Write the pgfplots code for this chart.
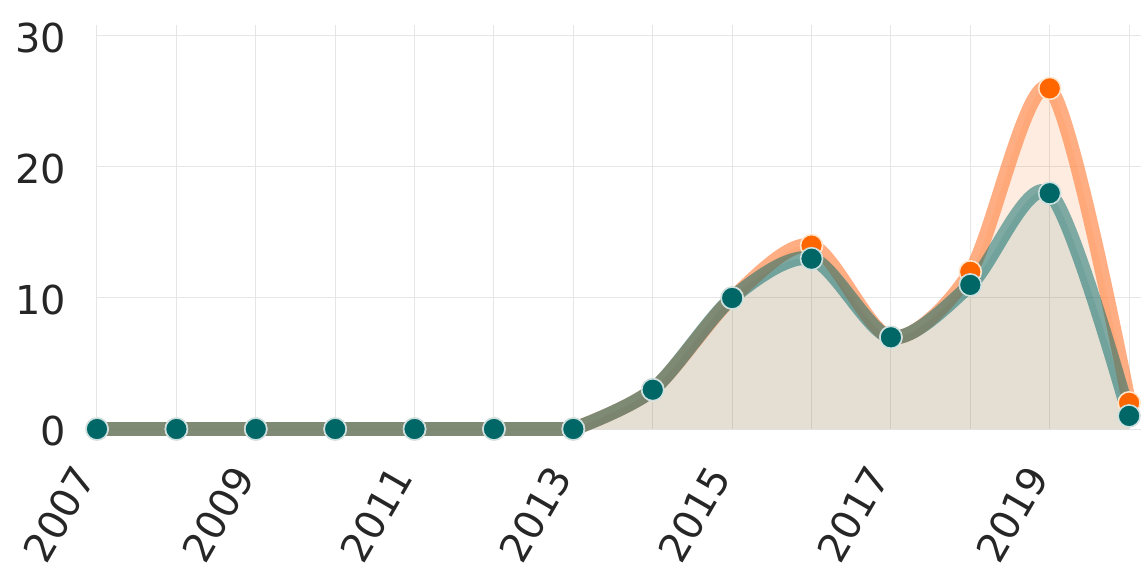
\documentclass[border=0pt]{standalone}
\usepackage{pgfplots}
\pgfplotsset{compat=1.18}
\usepackage{fontspec}
\setmainfont{DejaVu Sans}
\definecolor{tealm}{HTML}{006666}
\definecolor{orangem}{HTML}{FF6600}
\definecolor{orangel}{HTML}{FF8C50}
\definecolor{gridc}{HTML}{E6E6E6}
\begin{document}
\begin{tikzpicture}
\begin{axis}[
  scale only axis,
  width=522bp, height=202bp,
  xmin=2007, xmax=2020.15,
  ymin=0, ymax=30.84,
  clip=false,
  axis line style={draw=none},
  major tick length=0pt, minor tick length=0pt,
  xtick={2007,2009,...,2019},
  minor xtick={2008,2010,...,2020},
  ytick={0,10,20,30},
  grid=both,
  major grid style={gridc, line width=0.5bp},
  minor grid style={gridc, line width=0.5bp},
  xticklabel={\pgfmathprintnumber[1000 sep={}]{\tick}},
  /pgf/number format/assume math mode=true,
  tick label style={font=\fontsize{20}{24}\selectfont, text=black!85},
  xticklabel style={xshift=-4.5bp, yshift=-17.5bp, rotate=60, anchor=east},
  yticklabel style={anchor=east, xshift=-12bp, yshift=-1bp},
]
% fills
\addplot[smooth, draw=none, fill=orangem, fill opacity=0.12] coordinates {
(2013,0) (2014,3) (2015,10) (2016,14) (2017,7) (2018,12) (2019,26) (2020,2)} \closedcycle;
\addplot[smooth, draw=none, fill=tealm, fill opacity=0.10] coordinates {
(2013,0) (2014,3) (2015,10) (2016,13) (2017,7) (2018,11) (2019,18) (2020,1)} \closedcycle;
% orange line
\addplot[orangel, opacity=0.7, line width=7bp, line join=round, line cap=round] coordinates {
(2007,0) (2008,0) (2009,0) (2010,0) (2011,0) (2012,0) (2013,0)};
\addplot[smooth, orangel, opacity=0.7, line width=7bp, line join=round, line cap=round] coordinates {
(2013,0) (2014,3) (2015,10) (2016,14) (2017,7) (2018,12) (2019,26) (2020,2)};
% teal line
\addplot[tealm, opacity=0.5, line width=7bp, line join=round, line cap=round] coordinates {
(2007,0) (2008,0) (2009,0) (2010,0) (2011,0) (2012,0) (2013,0)};
\addplot[smooth, tealm, opacity=0.5, line width=7bp, line join=round, line cap=round] coordinates {
(2013,0) (2014,3) (2015,10) (2016,13) (2017,7) (2018,11) (2019,18) (2020,1)};
% markers
\addplot[only marks, mark=*, mark size=5.5bp, mark options={fill=orangem, draw=orange!20, line width=0.8bp}] coordinates {
(2007,0) (2008,0) (2009,0) (2010,0) (2011,0) (2012,0) (2013,0) (2014,3) (2015,10) (2016,14) (2017,7) (2018,12) (2019,26) (2020,2)};
\addplot[only marks, mark=*, mark size=5.5bp, mark options={fill=tealm, draw=tealm!20, line width=0.8bp}] coordinates {
(2007,0) (2008,0) (2009,0) (2010,0) (2011,0) (2012,0) (2013,0) (2014,3) (2015,10) (2016,13) (2017,7) (2018,11) (2019,18) (2020,1)};
\end{axis}
\pgfresetboundingbox
\path[use as bounding box] ([xshift=-48.5bp, yshift=12.5bp]current axis.north west) rectangle ([yshift=-71bp]current axis.south east);
\end{tikzpicture}
\end{document}
